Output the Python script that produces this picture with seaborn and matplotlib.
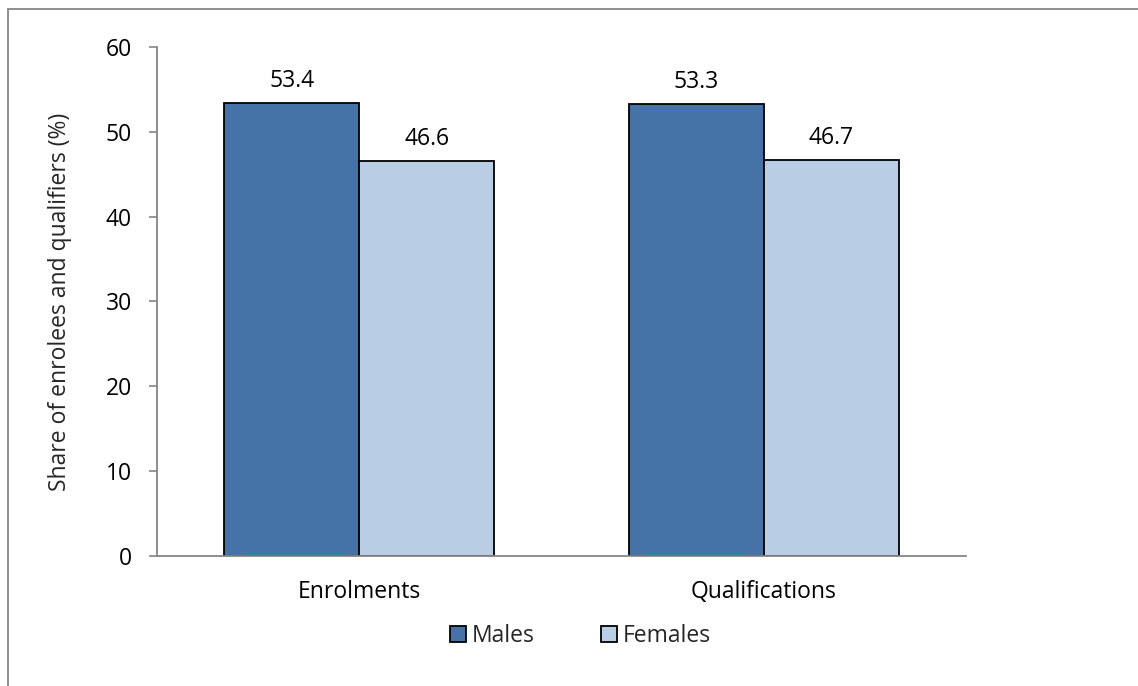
import pandas as pd
import numpy as np
import matplotlib.pyplot as plt
import seaborn as sns
from matplotlib.patches import Rectangle

# data
categories = ['Enrolments', 'Qualifications']
groups = ['Males', 'Females']
males = [53.4, 53.3]
females = [46.6, 46.7]

colors = ['#4673A7', '#B9CDE5']

df = pd.DataFrame({
    'category': categories * 2,
    'group': [groups[0]] * 2 + [groups[1]] * 2,
    'share': males + females,
})

sns.set_theme(style='white')
plt.rcParams['font.family'] = ['Open Sans', 'DejaVu Sans']
fs = 16.5

fig = plt.figure(figsize=(11.38, 6.86), dpi=100)
ax = fig.add_axes([0.138, 0.1895, 0.711, 0.742])

sns.barplot(data=df, x='category', y='share', hue='group', palette=colors,
            width=0.668, edgecolor='black', linewidth=1.3, saturation=1,
            ax=ax, legend=True)

for cont in ax.containers:
    ax.bar_label(cont, fmt='%.1f', padding=7, fontsize=fs, color='black')

ax.set_ylim(0, 60)
ax.set_yticks(range(0, 61, 10))
ax.set_xlim(-0.5, 1.5)
ax.set_xlabel('')
ax.set_ylabel('Share of enrolees and qualifiers (%)', fontsize=fs)
ax.yaxis.set_label_coords(-0.105, 0.5)
ax.tick_params(axis='y', labelsize=fs, length=6, width=1.2, color='#868686',
               left=True, pad=12, labelcolor='black')
ax.tick_params(axis='x', labelsize=fs, length=0, pad=17, labelcolor='black')

for s in ['top', 'right']:
    ax.spines[s].set_visible(False)
for s in ['left', 'bottom']:
    ax.spines[s].set_color('#868686')
    ax.spines[s].set_linewidth(1.3)

ax.legend(loc='center', bbox_to_anchor=(0.523, -0.157), ncol=2,
          frameon=False, fontsize=fs, handlelength=0.7, handleheight=0.7,
          handletextpad=0.25, columnspacing=2.9)

# outer chart frame (only top and left edges fall inside the picture)
fig.patches.append(Rectangle((0.007, -0.05), 1.1, 1.037, transform=fig.transFigure,
                             fill=False, edgecolor='#868686', linewidth=1.3))

fig.savefig('out.png', dpi=100)
